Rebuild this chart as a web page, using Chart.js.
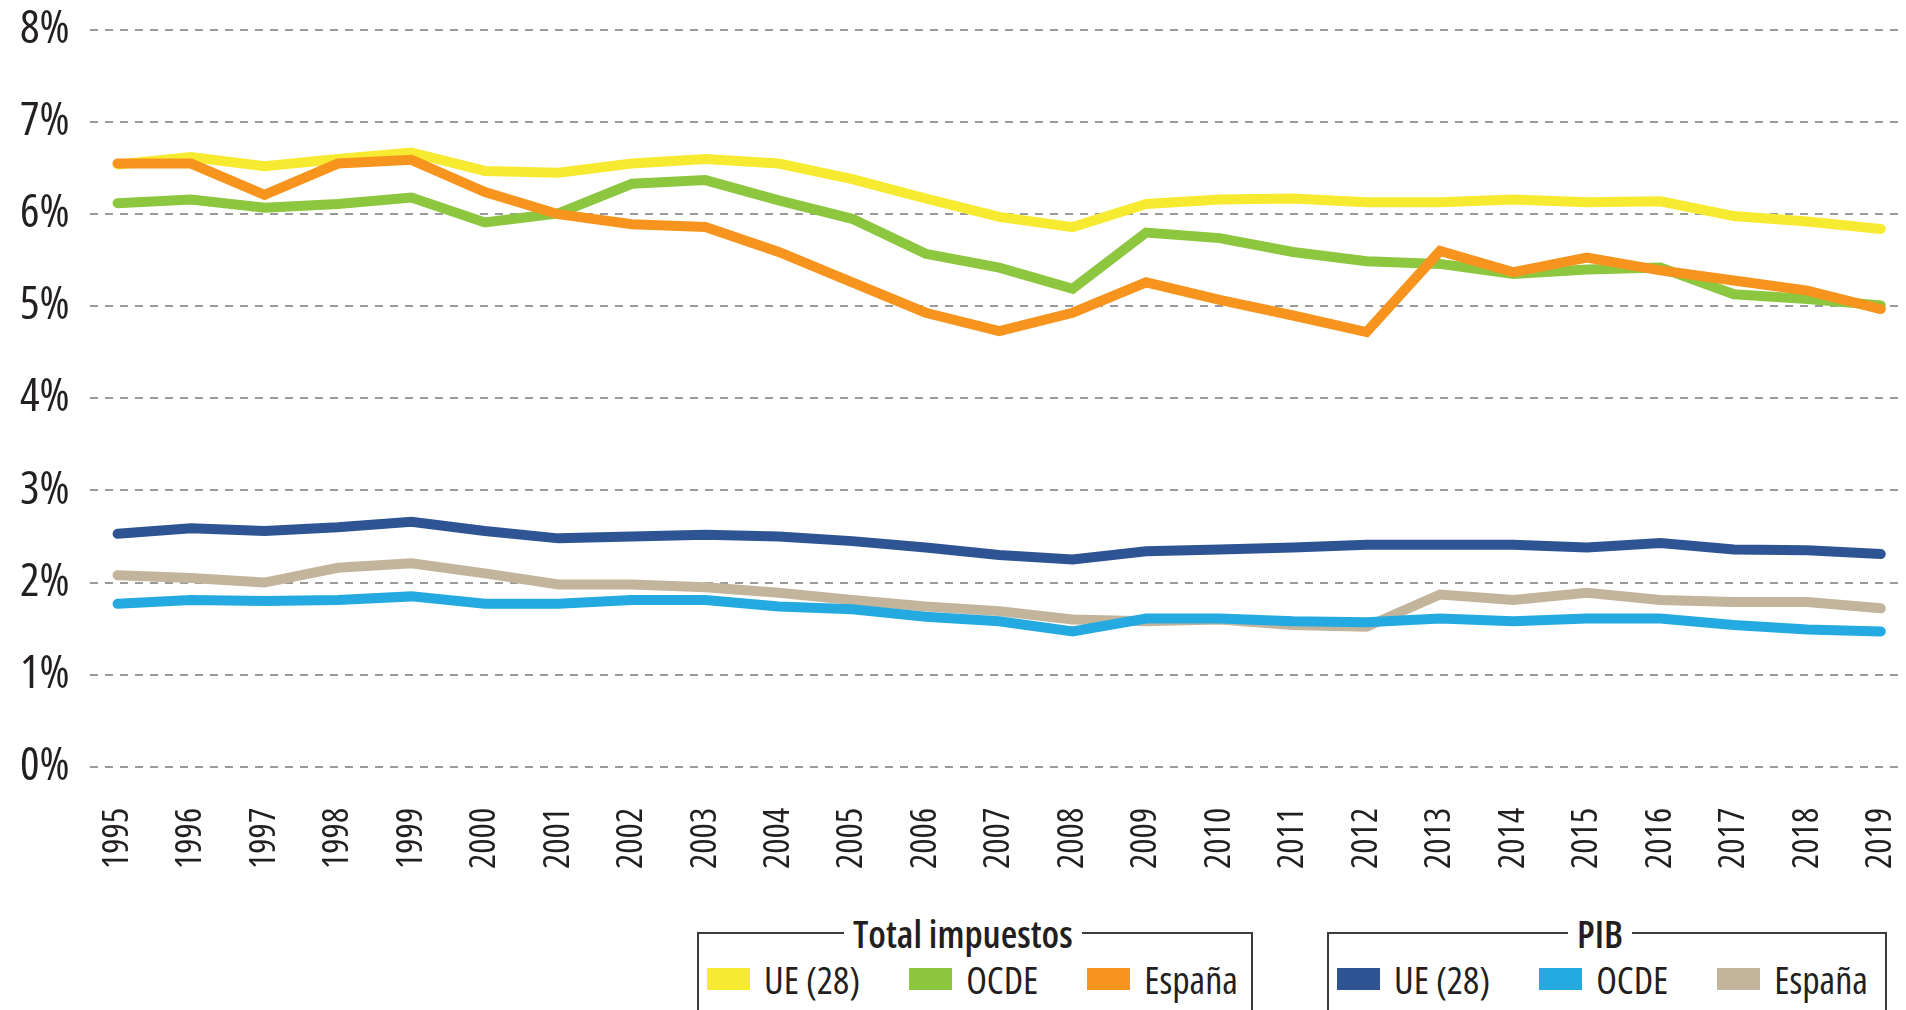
<!DOCTYPE html>
<html>
<head>
<meta charset="utf-8">
<script src="https://cdn.jsdelivr.net/npm/chart.js@4.4.1/dist/chart.umd.min.js"></script>
<style>
    html, body { margin: 0; background: #fff; overflow: hidden; }
    body { font-family: 'Open Sans', sans-serif; font-stretch: 75%; }
    #wrap { position: absolute; left: 0; top: 0; width: 1906px; height: 880px; }
    fieldset {
        position: absolute; top: 914px; height: 200px; margin: 0;
        padding: 0 0 0 8px; box-sizing: border-box;
        border: 2px solid #3c3c3c; color: #231f20;
    }
    legend { font-size: 38px; line-height: 38px; font-weight: 600; padding: 0 9px; white-space: nowrap; }
    .row { display: flex; align-items: center; margin-top: 8px; font-size: 38px; line-height: 38px; white-space: nowrap; }
    .item { display: flex; align-items: center; margin-right: 49px; }
    .item:last-child { margin-right: 0; }
    .sw { width: 43px; height: 22px; margin-right: 14px; }
    #g0 { left: 697px; width: 556px; }
    #g1 { left: 1327px; width: 560px; }
    #g0 legend { margin-left: 137px; }
    #g1 legend { margin-left: 231px; }
</style>
</head>
<body>
<div id="wrap"><canvas id="myChart"></canvas></div>
<fieldset id="g0"><legend></legend><div class="row"></div></fieldset>
<fieldset id="g1"><legend></legend><div class="row"></div></fieldset>
<script>
const years = [1995, 1996, 1997, 1998, 1999, 2000, 2001, 2002, 2003, 2004, 2005, 2006,
    2007, 2008, 2009, 2010, 2011, 2012, 2013, 2014, 2015, 2016, 2017, 2018, 2019];
const yTickLabels = ['0%', '1%', '2%', '3%', '4%', '5%', '6%', '7%', '8%'];
const groupTitles = ['Total impuestos', 'PIB'];
const seriesNames = ['UE (28)', 'OCDE', 'España'];

// Total impuestos
const ueTotal   = [6.54, 6.62, 6.52, 6.60, 6.67, 6.47, 6.45, 6.55, 6.60, 6.55, 6.38, 6.17, 5.97, 5.86, 6.11, 6.16, 6.17, 6.13, 6.13, 6.16, 6.13, 6.14, 5.98, 5.92, 5.84];
const ocdeTotal = [6.12, 6.16, 6.07, 6.11, 6.18, 5.91, 6.01, 6.33, 6.37, 6.15, 5.95, 5.57, 5.42, 5.19, 5.80, 5.74, 5.59, 5.49, 5.46, 5.35, 5.40, 5.42, 5.13, 5.08, 5.01];
const espTotal  = [6.55, 6.55, 6.21, 6.55, 6.59, 6.24, 6.00, 5.89, 5.86, 5.59, 5.26, 4.93, 4.73, 4.93, 5.26, 5.07, 4.90, 4.72, 5.60, 5.37, 5.53, 5.39, 5.28, 5.17, 4.97];
// PIB
const uePib     = [2.53, 2.59, 2.56, 2.60, 2.66, 2.56, 2.48, 2.50, 2.52, 2.50, 2.45, 2.38, 2.30, 2.25, 2.34, 2.36, 2.38, 2.41, 2.41, 2.41, 2.38, 2.43, 2.36, 2.35, 2.31];
const ocdePib   = [1.77, 1.81, 1.80, 1.81, 1.85, 1.77, 1.77, 1.81, 1.81, 1.74, 1.71, 1.63, 1.58, 1.47, 1.61, 1.61, 1.58, 1.57, 1.61, 1.58, 1.61, 1.61, 1.54, 1.49, 1.47];
const espPib    = [2.08, 2.05, 2.00, 2.16, 2.21, 2.10, 1.98, 1.98, 1.95, 1.89, 1.81, 1.74, 1.69, 1.60, 1.58, 1.60, 1.54, 1.52, 1.87, 1.81, 1.89, 1.81, 1.79, 1.79, 1.72];

const groups = [
    { values: [ueTotal, ocdeTotal, espTotal], colors: ['#f6eb31', '#8dc63f', '#f7941e'] },
    { values: [uePib, ocdePib, espPib], colors: ['#2f5493', '#24aae1', '#c2b59c'] }
];
// orden de dibujo (menor = encima)
const drawOrder = [[5, 4, 3], [2, 0, 1]];

const FONT = "'Open Sans', sans-serif";

const datasets = [];
groups.forEach((g, gi) => {
    g.values.forEach((vals, si) => {
        datasets.push({
            label: seriesNames[si],
            group: gi,
            data: vals.map((v, i) => ({ x: years[i], y: v })),
            borderColor: g.colors[si],
            backgroundColor: g.colors[si],
            borderWidth: 10,
            borderCapStyle: 'round',
            pointRadius: 0,
            tension: 0,
            order: drawOrder[gi][si]
        });
    });
});

const ctx = document.getElementById('myChart').getContext('2d');
const myChart = new Chart(ctx, {
    type: 'line',
    data: { datasets: datasets },
    options: {
        responsive: true,
        maintainAspectRatio: false,
        animation: false,
        layout: { padding: { left: 20, right: 0, top: 30, bottom: 11 } },
        plugins: { legend: { display: false }, tooltip: { enabled: false } },
        scales: {
            x: {
                type: 'linear',
                min: 1994.62,
                max: 2019.25,
                afterBuildTicks: axis => { axis.ticks = years.map(y => ({ value: y })); },
                grid: { display: true, drawOnChartArea: false, drawTicks: true, tickLength: 41, tickColor: 'rgba(0,0,0,0)' },
                border: { display: false },
                ticks: {
                    autoSkip: false,
                    minRotation: 90,
                    maxRotation: 90,
                    padding: 0,
                    color: '#231f20',
                    font: { family: FONT, weight: 'normal condensed', size: 36, lineHeight: 0.7 },
                    callback: v => String(v)
                }
            },
            y: {
                min: 0,
                max: 8,
                grid: { color: '#9a9a9a', lineWidth: 2, drawTicks: true, tickLength: 20, tickColor: 'rgba(0,0,0,0)' },
                border: { display: false, dash: [8, 7] },
                ticks: {
                    stepSize: 1,
                    padding: 0,
                    color: '#231f20',
                    font: { family: FONT, weight: 'normal condensed', size: 46, lineHeight: 1.2 },
                    callback: v => yTickLabels[v]
                }
            }
        }
    }
});

// leyendas en recuadro, construidas a partir de los datasets
groupTitles.forEach((title, gi) => {
    const fs = document.getElementById('g' + gi);
    fs.querySelector('legend').textContent = title;
    const row = fs.querySelector('.row');
    myChart.data.datasets.filter(d => d.group === gi).forEach(d => {
        const item = document.createElement('div');
        item.className = 'item';
        const sw = document.createElement('span');
        sw.className = 'sw';
        sw.style.background = d.borderColor;
        const txt = document.createElement('span');
        txt.textContent = d.label;
        item.appendChild(sw);
        item.appendChild(txt);
        row.appendChild(item);
    });
});
</script>
</body>
</html>
